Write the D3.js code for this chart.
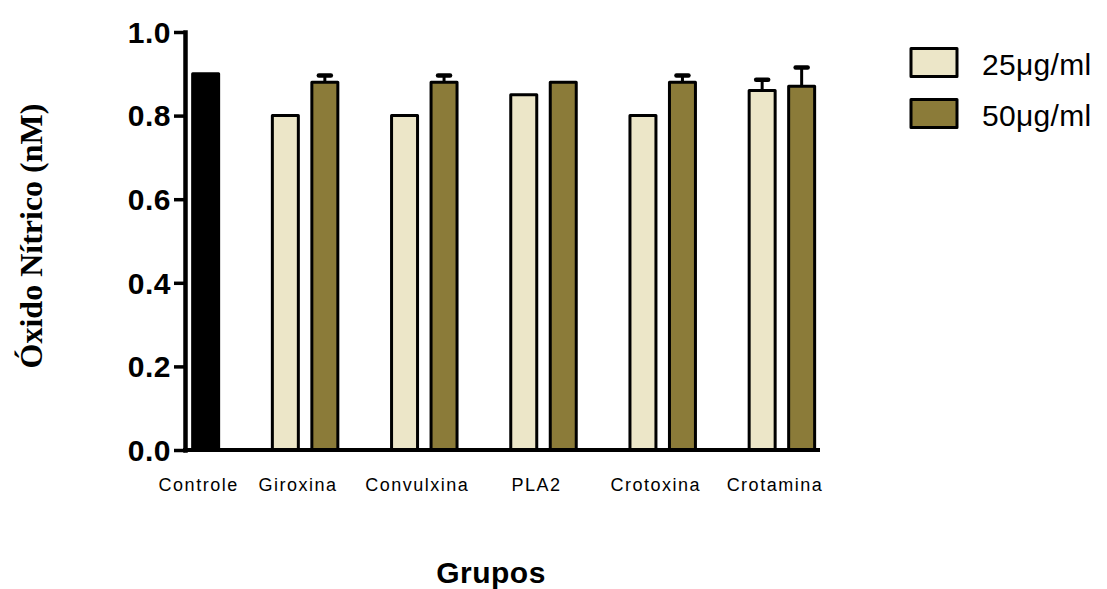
<!DOCTYPE html>
<html>
<head>
<meta charset="utf-8">
<script src="https://cdn.jsdelivr.net/npm/d3@7"></script>
<style>
  body { margin: 0; background: #fff; }
  svg { display: block; }
  text { fill: #000; }
</style>
</head>
<body>
<svg id="chart" width="1107" height="589"></svg>
<script>
// Data
var groups = ['Controle', 'Giroxina', 'Convulxina', 'PLA2', 'Crotoxina', 'Crotamina'];
var series = ['25\u03bcg/ml', '50\u03bcg/ml'];
var controlValue = 0.90;
var values25 = [0.80, 0.80, 0.85, 0.80, 0.86];
var values50 = [0.88, 0.88, 0.88, 0.88, 0.87];
var errors25 = [0, 0, 0, 0, 0.026];
var errors50 = [0.016, 0.016, 0, 0.016, 0.045];
var yTicks = [0, 0.2, 0.4, 0.6, 0.8, 1.0];

var colors = { '25\u03bcg/ml': '#ece6c8', '50\u03bcg/ml': '#8b7b39', control: '#000' };

function main() {
    var svg = d3.select('#chart');

    var y = d3.scaleLinear().domain([0, 1]).range([450, 32]);
    var x0 = d3.scaleBand().domain(groups).range([126.3, 841.5]).padding(0);
    var x1 = d3.scaleBand().domain(series).range([-46.25, 46.25])
        .paddingInner(0.342).paddingOuter(0.342);
    var center = function(g) { return x0(g) + x0.bandwidth() / 2; };

    // flatten into one row per bar; Controle sits in the second slot
    var bars = [{ group: groups[0], series: series[1], value: controlValue, err: 0, fill: colors.control }];
    groups.slice(1).forEach(function(g, i) {
        bars.push({ group: g, series: series[0], value: values25[i], err: errors25[i], fill: colors[series[0]] });
        bars.push({ group: g, series: series[1], value: values50[i], err: errors50[i], fill: colors[series[1]] });
    });

    var barX = function(d) { return center(d.group) + x1(d.series); };

    // error bars (upper only), drawn behind bars
    var eb = svg.append('g').selectAll('g').data(bars.filter(function(d) { return d.err > 0; }))
        .enter().append('g');
    eb.append('line')
        .attr('x1', function(d) { return barX(d) + x1.bandwidth() / 2; })
        .attr('x2', function(d) { return barX(d) + x1.bandwidth() / 2; })
        .attr('y1', function(d) { return y(d.value); })
        .attr('y2', function(d) { return y(d.value + d.err); })
        .attr('stroke', '#000').attr('stroke-width', 3);
    eb.append('line')
        .attr('x1', function(d) { return barX(d) + x1.bandwidth() / 2 - 6; })
        .attr('x2', function(d) { return barX(d) + x1.bandwidth() / 2 + 6; })
        .attr('y1', function(d) { return y(d.value + d.err); })
        .attr('y2', function(d) { return y(d.value + d.err); })
        .attr('stroke', '#000').attr('stroke-width', 4.5).attr('stroke-linecap', 'round');

    svg.append('g').selectAll('rect').data(bars).enter().append('rect')
        .attr('x', barX)
        .attr('y', function(d) { return y(d.value); })
        .attr('width', x1.bandwidth())
        .attr('height', function(d) { return y(0) - y(d.value); })
        .attr('fill', function(d) { return d.fill; })
        .attr('stroke', '#000')
        .attr('stroke-width', 3)
        .attr('stroke-linejoin', 'round');

    // x baseline
    svg.append('line')
        .attr('x1', 183).attr('x2', 820)
        .attr('y1', y(0)).attr('y2', y(0))
        .attr('stroke', '#000').attr('stroke-width', 4);

    // y axis
    var yAxis = svg.append('g')
        .attr('transform', 'translate(185,0)')
        .call(d3.axisLeft(y).tickValues(yTicks).tickFormat(d3.format('.1f'))
            .tickSize(11).tickSizeOuter(0).tickPadding(3));
    yAxis.select('.domain').attr('stroke-width', 4.5).attr('stroke-linecap', 'square');
    yAxis.selectAll('.tick line').attr('stroke-width', 3.5);
    yAxis.selectAll('.tick text')
        .style('font-family', '"Liberation Sans", Arial, sans-serif')
        .style('font-size', '30px')
        .style('font-weight', 'bold')
        .style('letter-spacing', '0.5px')
        .attr('dy', '0.34em');

    // group labels
    svg.append('g').selectAll('text').data(groups).enter().append('text')
        .attr('x', function(g, i) { return i === 0 ? center(g) + x1(series[1]) + x1.bandwidth() / 2 - 7 : center(g) - 7; })
        .attr('y', 491)
        .attr('text-anchor', 'middle')
        .style('font-family', '"Liberation Sans", Arial, sans-serif')
        .style('font-size', '18px')
        .style('letter-spacing', '1.5px')
        .text(function(g) { return g; });

    // axis titles
    svg.append('text')
        .attr('transform', 'translate(42,236) rotate(-90)')
        .attr('text-anchor', 'middle')
        .style('font-family', '"Liberation Serif", "Times New Roman", serif')
        .style('font-size', '32px')
        .style('font-weight', 'bold')
        .text('\u00d3xido N\u00edtrico (nM)');

    svg.append('text')
        .attr('x', 491).attr('y', 583)
        .attr('text-anchor', 'middle')
        .style('font-family', '"Liberation Sans", Arial, sans-serif')
        .style('font-size', '30px')
        .style('font-weight', 'bold')
        .style('letter-spacing', '0.5px')
        .text('Grupos');

    // legend
    var legend = svg.append('g').selectAll('g').data(series).enter().append('g')
        .attr('transform', function(d, i) { return 'translate(911,' + (48.5 + i * 51) + ')'; });
    legend.append('rect')
        .attr('width', 46).attr('height', 28)
        .attr('fill', function(d) { return colors[d]; })
        .attr('stroke', '#000').attr('stroke-width', 3)
        .attr('stroke-linejoin', 'round');
    legend.append('text')
        .attr('x', 71).attr('y', 26.5)
        .style('font-family', '"Liberation Sans", Arial, sans-serif')
        .style('font-size', '30px')
        .style('letter-spacing', '0.3px')
        .text(function(d) { return d; });
}

main();
</script>
</body>
</html>
